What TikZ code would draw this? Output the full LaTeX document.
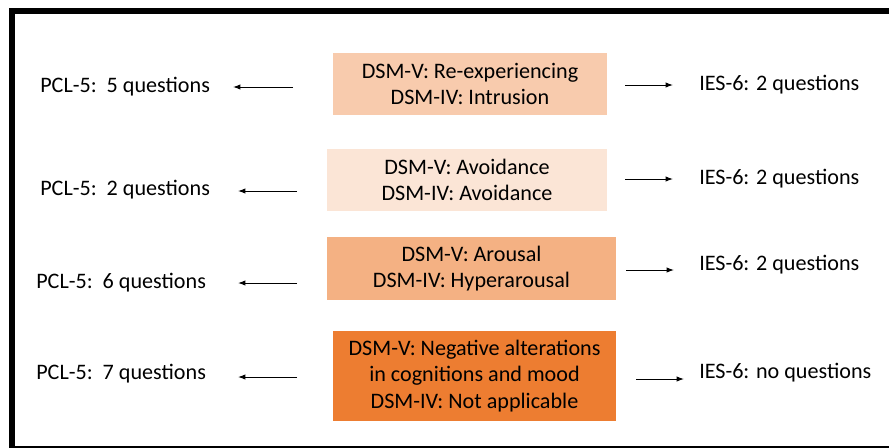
\documentclass[tikz,border=0pt]{standalone}
\usepackage{fontspec}
\setmainfont{Carlito}
\usetikzlibrary{arrows.meta}
\definecolor{peach}{HTML}{F8CBAD}
\definecolor{pale}{HTML}{FBE5D6}
\definecolor{tan}{HTML}{F4B183}
\definecolor{deep}{HTML}{ED7D31}
\tikzset{
  dsm/.style={fill=#1, draw=none, align=center, inner sep=0pt, font=\fontsize{16.6}{20}\selectfont},
  lbl/.style={anchor=west, inner sep=0pt, font=\fontsize{16.6}{20}\selectfont},
  arr/.style={-{Latex[length=5.5pt,width=4pt]}, line width=0.75pt}
}
\begin{document}
\begin{tikzpicture}[x=0.75pt,y=-0.75pt]
\useasboundingbox (0,0) rectangle (889,447);
\begin{scope}
\clip (0,0) rectangle (889,447);
\draw[line width=4.5pt] (12,11) rectangle (900,449);
\end{scope}
% the four symptom clusters
\node[dsm=peach, minimum width=205.5pt, minimum height=46.5pt] (b1) at (470,84) {DSM-V: Re-experiencing\\DSM-IV: Intrusion};
\node[dsm=pale, minimum width=210pt, minimum height=46.5pt] (b2) at (467,180) {DSM-V: Avoidance\\DSM-IV: Avoidance};
\node[dsm=tan, minimum width=216.75pt, minimum height=47.25pt] (b3) at (471.5,268.5) {DSM-V: Arousal\\DSM-IV: Hyperarousal};
\node[dsm=deep, minimum width=212.25pt, minimum height=67.5pt] (b4) at (474.5,376) {DSM-V: Negative alterations\\in cognitions and mood\\DSM-IV: Not applicable};
% PCL-5
\node[lbl] (p1) at (40,87) {PCL-5:\ \ 5 questions};
\node[lbl] (p2) at (40,190) {PCL-5:\ \ 2 questions};
\node[lbl] (p3) at (36,283) {PCL-5:\ \ 6 questions};
\node[lbl] (p4) at (36,374) {PCL-5:\ \ 7 questions};
% IES-6
\node[lbl] (i1) at (699,85) {IES-6: 2 questions};
\node[lbl] (i2) at (699,179) {IES-6: 2 questions};
\node[lbl] (i3) at (699,265) {IES-6: 2 questions};
\node[lbl] (i4) at (699,373) {IES-6: no questions};
\coordinate (l1a) at (293,87); \coordinate (l1b) at (233,87);
\coordinate (l2a) at (297,191); \coordinate (l2b) at (238,191);
\coordinate (l3a) at (297,283); \coordinate (l3b) at (238,283);
\coordinate (l4a) at (297,377); \coordinate (l4b) at (238,377);
\coordinate (r1a) at (625,85); \coordinate (r1b) at (673,85);
\coordinate (r2a) at (625,179); \coordinate (r2b) at (673,179);
\coordinate (r3a) at (626,270); \coordinate (r3b) at (674,270);
\coordinate (r4a) at (636,379); \coordinate (r4b) at (684,379);
\draw[arr] (l1a) -- (l1b);
\draw[arr] (l2a) -- (l2b);
\draw[arr] (l3a) -- (l3b);
\draw[arr] (l4a) -- (l4b);
\draw[arr] (r1a) -- (r1b);
\draw[arr] (r2a) -- (r2b);
\draw[arr] (r3a) -- (r3b);
\draw[arr] (r4a) -- (r4b);
\end{tikzpicture}
\end{document}
